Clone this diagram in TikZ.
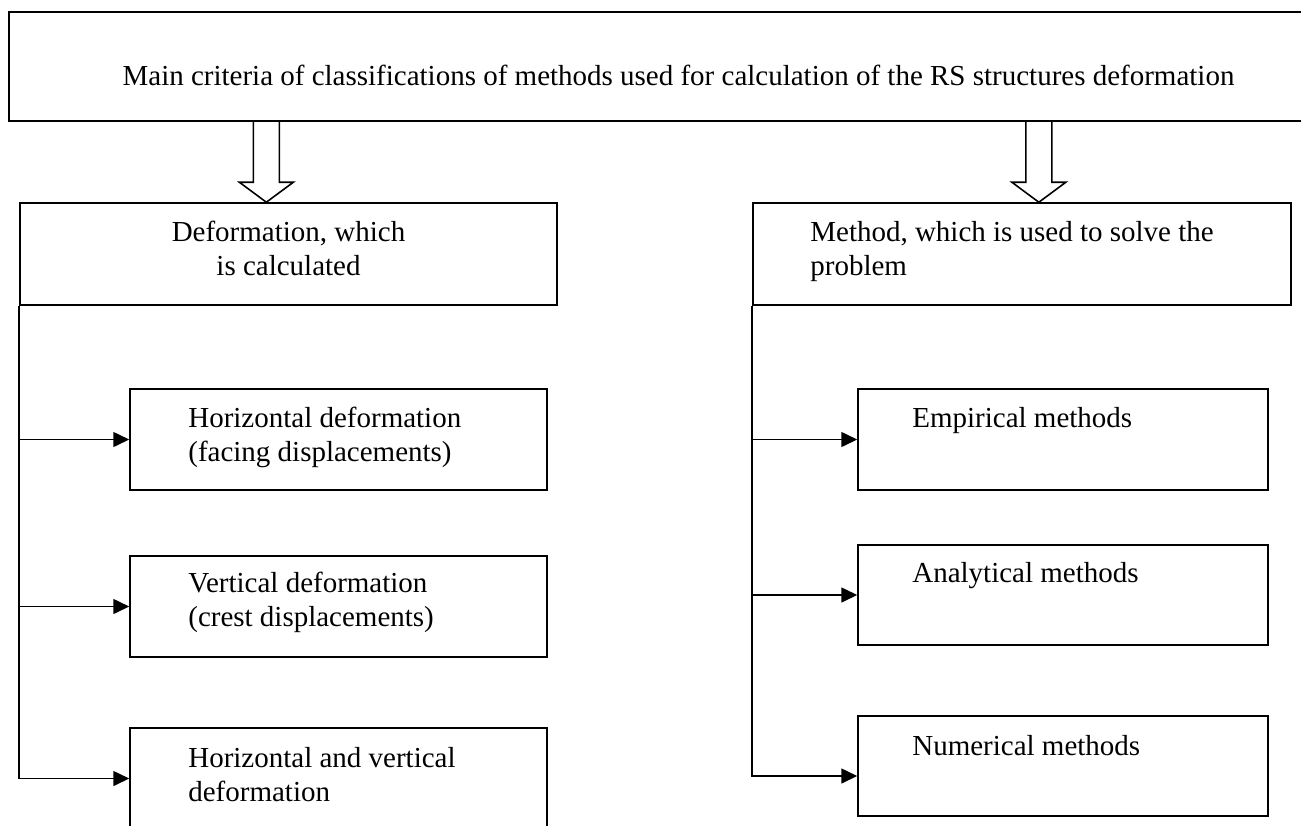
\documentclass[tikz,border=0pt]{standalone}
\usepackage{fontspec}
\setmainfont{Liberation Serif}
\usetikzlibrary{arrows.meta,calc}

\tikzset{
  frame/.style={draw, line width=0.9pt, inner sep=0pt},
  lbl/.style={inner sep=0pt, font=\fontsize{16.5}{18.8}\selectfont},
  link/.style={line width=0.9pt, -{Triangle[length=0.32cm,width=0.3cm]}},
  hollow/.style={line width=0.9pt},
}
\newcommand\fatarrow[2]{%
  \draw[hollow] ($(#1)+(-13,0)$) -- ($(#2)+(-13,-20)$) -- ($(#2)+(-27,-20)$)
    -- (#2) -- ($(#2)+(27,-20)$) -- ($(#2)+(13,-20)$) -- ($(#1)+(13,0)$);}

\begin{document}
\begin{tikzpicture}[x=0.02cm,y=-0.02cm]
    \useasboundingbox (0,0) rectangle (1301,825);
    \clip (0,0) rectangle (1301,825);
    \fill[white] (0,0) rectangle (1301,825);
    %top
    \node[frame, minimum width=26.78cm, minimum height=2.18cm] (crit) at (678.5,66.5) {};
    \node[lbl, anchor=base] (critt) at (678.5,85) %
         {Main criteria of classifications of methods used for calculation of the RS structures deformation};
    %left
    \node[frame, minimum width=10.74cm, minimum height=2.04cm] (lb) at (288.5,254) {};
    \node[lbl, align=center, anchor=base] (lbt) at (288.5,275) %
         {Deformation, which\\is calculated};
    \node[frame, minimum width=8.34cm, minimum height=2.02cm] (h1) at (338.5,439.5) {};
    \node[lbl, align=left, anchor=base west] (h1t) at (188,461) %
         {Horizontal deformation\\(facing displacements)};
    \node[frame, minimum width=8.34cm, minimum height=2.02cm] (h2) at (338.5,606.5) {};
    \node[lbl, align=left, anchor=base west] (h2t) at (188,626) %
         {Vertical deformation\\(crest displacements)};
    \node[frame, minimum width=8.34cm, minimum height=2.02cm] (h3) at (338.5,778.5) {};
    \node[lbl, align=left, anchor=base west] (h3t) at (188,801) %
         {Horizontal and vertical\\deformation};
    %right
    \node[frame, minimum width=10.76cm, minimum height=2.04cm] (rb) at (1022,254) {};
    \node[lbl, align=left, anchor=base west] (rbt) at (810,275) %
         {Method, which is used to solve the\\problem};
    \node[frame, minimum width=8.2cm, minimum height=2.02cm] (e1) at (1063,439.5) {};
    \node[lbl, anchor=base west] (e1t) at (912,427) {Empirical methods};
    \node[frame, minimum width=8.2cm, minimum height=2cm] (e2) at (1063,595) {};
    \node[lbl, anchor=base west] (e2t) at (912,582) {Analytical methods};
    \node[frame, minimum width=8.2cm, minimum height=2cm] (e3) at (1063,766) {};
    \node[lbl, anchor=base west] (e3t) at (912,755) {Numerical methods};
    %hollow arrows
    \path (crit.south west) ++(258,0) coordinate (la1);
    \coordinate (la2) at (la1 |- lb.north);
    \path (crit.south west) ++(1030.5,0) coordinate (ra1);
    \coordinate (ra2) at (ra1 |- rb.north);
    \fatarrow{la1}{la2}
    \fatarrow{ra1}{ra2}
    %branches
    \draw[link] (lb.south west) |- (h3.west);
    \draw[link] (lb.south west |- h1.west) -- (h1.west);
    \draw[link] (lb.south west |- h2.west) -- (h2.west);
    \draw[link] (rb.south west) |- ($(e3.west)+(0,10)$);
    \draw[link] (rb.south west |- e1.west) -- (e1.west);
    \draw[link] (rb.south west |- e2.west) -- (e2.west);
\end{tikzpicture}
\end{document}
